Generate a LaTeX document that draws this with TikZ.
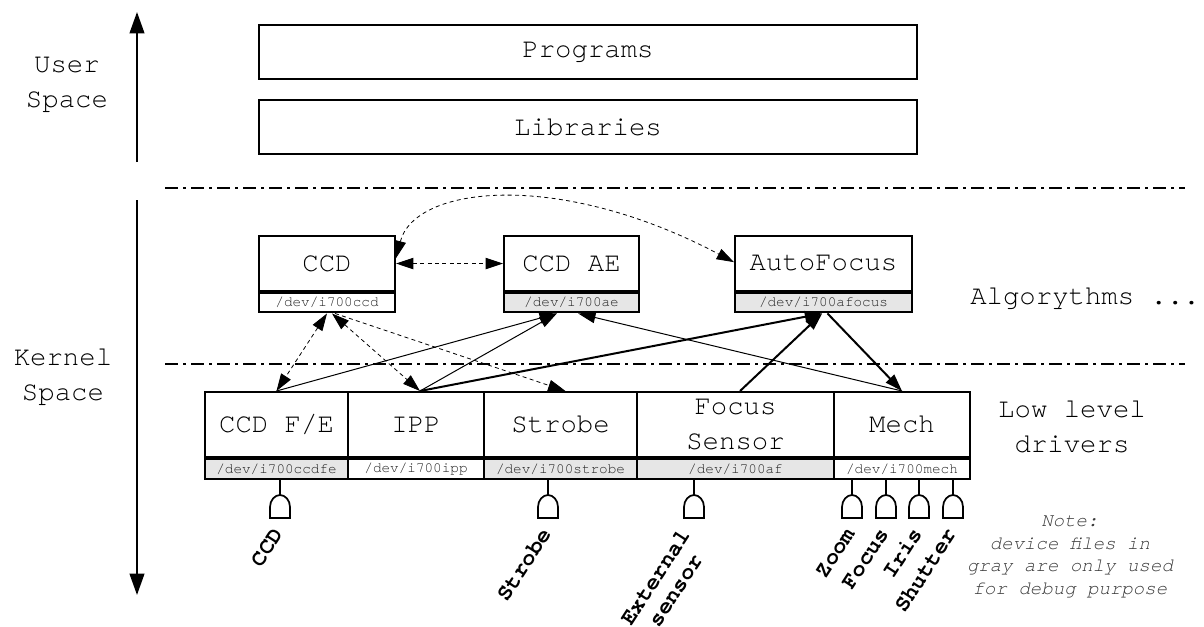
\documentclass[tikz,border=0pt]{standalone}
\usepackage{fontspec}
\setmainfont{TeX Gyre Cursor}
\usetikzlibrary{arrows.meta,calc}
\definecolor{devgray}{HTML}{E6E6E6}
\definecolor{devtext}{HTML}{222222}
\definecolor{notetext}{HTML}{3A3A3A}
\begin{document}
\begin{tikzpicture}[x=0.75pt,y=-0.75pt,
  big/.style={font=\fontsize{20.5}{26.25}\selectfont},
  mainbox/.style={draw, line width=1.5pt, inner sep=0pt, align=center, big},
  devbox/.style={draw, line width=1.5pt, inner sep=0pt, anchor=north,
    font=\fontsize{10.75}{12}\selectfont, text=devtext, minimum height=14.6pt},
  dbg/.style={devbox, fill=devgray},
  lbl/.style={font=\bfseries\fontsize{17}{18}\selectfont, rotate=57, inner sep=0pt, anchor=east, align=center},
  tip/.tip={Triangle[length=13pt,width=8.5pt]},
  bigtip/.tip={Triangle[length=16pt,width=11pt]},
  conn/.style={line width=0.75pt, -tip},
  tconn/.style={line width=1.5pt, -tip},
  dconn/.style={line width=0.6pt, dash pattern=on 3pt off 2.5pt},
  varrow/.style={line width=1.5pt, -bigtip},
  sep/.style={line width=1.5pt, dash pattern=on 9.75pt off 3.75pt on 2.25pt off 3.75pt},
  stub/.style={line width=1.3pt},
  ingate/.pic={\draw[line width=1.3pt] (-10,23) -- (-10,12) .. controls (-10,5) and (-5,0) .. (0,0) .. controls (5,0) and (10,5) .. (10,12) -- (10,23) -- cycle;}
]
\useasboundingbox (0,0) rectangle (1204,626);

% space arrows and labels
\coordinate (upbot) at (137,162);
\coordinate (uptop) at (137,12);
\coordinate (dntop) at (137,200);
\coordinate (dnbot) at (137,595);
\draw[varrow] (upbot) -- (uptop);
\draw[varrow] (dntop) -- (dnbot);
\node[big, align=center] (user) at (67,85) {User\\Space};
\node[big, align=center] (kernel) at (63,377) {Kernel\\Space};

% separators
\coordinate (s1a) at (165,188);
\coordinate (s1b) at (1185,188);
\coordinate (s2a) at (165,364);
\coordinate (s2b) at (1185,364);
\draw[sep] (s1a) -- (s1b);
\draw[sep] (s2a) -- (s2b);

% user space
\node[mainbox, minimum width=493.5pt, minimum height=40.5pt] (prog) at (588,52) {Programs};
\node[mainbox, minimum width=493.5pt, minimum height=40.5pt] (lib) at (588,127) {Libraries};

% algorithms
\node[mainbox, minimum width=102pt, minimum height=41.25pt] (ccd) at (327,263.5) {CCD};
\node[devbox, minimum width=102pt] (ccd-dev) at (ccd.south) {/dev/i700ccd};
\node[mainbox, minimum width=101.25pt, minimum height=41.25pt] (ccdae) at (571.5,263.5) {CCD AE};
\node[dbg, minimum width=101.25pt] (ccdae-dev) at (ccdae.south) {/dev/i700ae};
\node[mainbox, minimum width=132.75pt, minimum height=41.25pt] (af) at (823.5,263.5) {AutoFocus};
\node[dbg, minimum width=132.75pt] (af-dev) at (af.south) {/dev/i700afocus};
\node[big, anchor=west, inner sep=0pt] (algo) at (970,299) {Algorythms ...};

% low level drivers
\node[mainbox, minimum width=107.25pt, minimum height=48.75pt] (ccdfe) at (276.5,424.5) {CCD F/E};
\node[dbg, minimum width=107.25pt, minimum height=15pt] (ccdfe-dev) at (ccdfe.south) {/dev/i700ccdfe};
\node[mainbox, minimum width=102pt, minimum height=48.75pt] (ipp) at (416,424.5) {IPP};
\node[devbox, minimum width=102pt, minimum height=15pt] (ipp-dev) at (ipp.south) {/dev/i700ipp};
\node[mainbox, minimum width=114.75pt, minimum height=48.75pt] (strobe) at (560.5,424.5) {Strobe};
\node[dbg, minimum width=114.75pt, minimum height=15pt] (strobe-dev) at (strobe.south) {/dev/i700strobe};
\node[mainbox, minimum width=147.75pt, minimum height=48.75pt] (focus) at (735.5,424.5) {Focus\\Sensor};
\node[dbg, minimum width=147.75pt, minimum height=15pt] (focus-dev) at (focus.south) {/dev/i700af};
\node[mainbox, minimum width=102pt, minimum height=48.75pt] (mech) at (902,424.5) {Mech};
\node[devbox, minimum width=102pt, minimum height=15pt] (mech-dev) at (mech.south) {/dev/i700mech};
\node[big, align=center] (low) at (1072,427) {Low level\\drivers};

% connectors
\draw[dconn, tip-tip] (ccd.east) -- (ccdae.west);
\draw[dconn, tip-tip] ([yshift=4pt]ccd.east) .. controls (415,185) and (560,170) .. ([yshift=1pt]af.west);
\draw[dconn, tip-tip] (ccd-dev.south) -- (ccdfe.north);
\draw[dconn, tip-tip] ([xshift=3.75pt]ccd-dev.south) -- ([xshift=3pt]ipp.north);
\draw[dconn, -tip] ([xshift=6pt]ccd-dev.south) -- ([xshift=3.75pt]strobe.north);
\draw[conn] (ccdfe.north) -- ([xshift=-11pt]ccdae-dev.south);
\draw[conn] ([xshift=3pt]ipp.north) -- ([xshift=-11pt]ccdae-dev.south);
\draw[conn] (mech.north) -- ([xshift=5pt]ccdae-dev.south);
\draw[tconn] ([xshift=3pt]ipp.north) -- ([xshift=-1pt]af-dev.south);
\draw[tconn] ([xshift=3.4pt]focus.north) -- ([xshift=-1pt]af-dev.south);
\draw[tconn] ([xshift=3pt]af-dev.south) -- (mech.north);

% inputs
\coordinate (gccd) at (280,495);
\coordinate (gstrobe) at (548,495);
\coordinate (gext) at (694,495);
\coordinate (gzoom) at (852,495);
\coordinate (gfocus) at (886,495);
\coordinate (giris) at (919,495);
\coordinate (gshut) at (953,495);
\draw[stub] (gccd |- ccdfe-dev.south) -- (gccd);
\draw[stub] (gstrobe |- strobe-dev.south) -- (gstrobe);
\draw[stub] (gext |- focus-dev.south) -- (gext);
\draw[stub] (gzoom |- mech-dev.south) -- (gzoom);
\draw[stub] (gfocus |- mech-dev.south) -- (gfocus);
\draw[stub] (giris |- mech-dev.south) -- (giris);
\draw[stub] (gshut |- mech-dev.south) -- (gshut);
\pic at (gccd) {ingate};
\pic at (gstrobe) {ingate};
\pic at (gext) {ingate};
\pic at (gzoom) {ingate};
\pic at (gfocus) {ingate};
\pic at (giris) {ingate};
\pic at (gshut) {ingate};
\node[lbl] (lccd) at (278,530) {CCD};
\node[lbl] (lstrobe) at (546,530) {Strobe};
\node[lbl] (lext) at (695,538) {External\\sensor};
\node[lbl] (lzoom) at (850,530) {Zoom};
\node[lbl] (lfocus) at (884,530) {Focus};
\node[lbl] (liris) at (917,530) {Iris};
\node[lbl] (lshut) at (951,530) {Shutter};

% note
\node[font=\itshape\fontsize{14.3}{17}\selectfont, text=notetext, align=center] (note) at (1070,557) {Note:\\device files in\\gray are only used\\for debug purpose};
\end{tikzpicture}
\end{document}
